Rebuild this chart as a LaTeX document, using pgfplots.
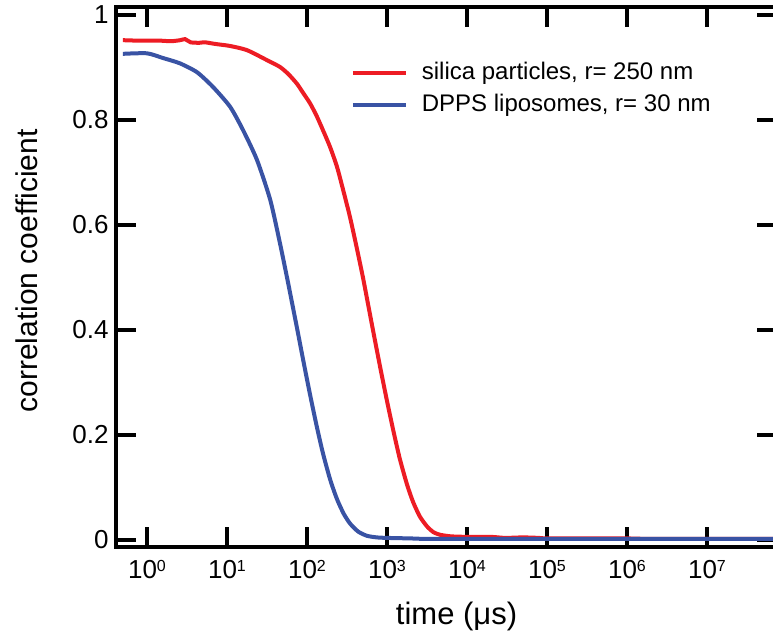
\documentclass[border=0pt]{standalone}
\usepackage{fontspec}
\setmainfont{Liberation Sans}
\usepackage{pgfplots}
\pgfplotsset{compat=1.18}
\definecolor{cred}{RGB}{237,28,36}
\definecolor{cblue}{RGB}{57,83,164}
\newcommand{\ep}[1]{10\raisebox{3.7pt}{\fontsize{8}{8}\selectfont #1}}
\begin{document}
\begin{tikzpicture}
\begin{axis}[
  scale only axis,
  width=330pt, height=270pt,
  xmode=log,
  xmin=0.4159, xmax=7.396e7,
  ymin=-0.0133, ymax=1.0152,
  xtick={1,10,100,1000,10000,100000,1000000,10000000},
  xticklabels={\ep{0},\ep{1},\ep{2},\ep{3},\ep{4},\ep{5},\ep{6},\ep{7}},
  xminorticks=false,
  ytick={0,0.2,0.4,0.6,0.8,1},
  yticklabels={0,0.2,0.4,0.6,0.8,1},
  yminorticks=false,
  tick align=inside,
  xtick pos=both, ytick pos=both,
  major tick length=10pt,
  tick style={line width=2pt, black},
  axis line style={line width=2pt, black},
  xticklabel style={anchor=north, inner sep=0pt, yshift=-6.5pt, font=\fontsize{13}{15}\selectfont},
  yticklabel style={anchor=east, inner sep=0pt, xshift=-3.8pt, font=\fontsize{13}{15}\selectfont},
  every axis x label/.style={at={(axis description cs:0.5152,-0.1444)}, anchor=base, font=\fontsize{15.5}{18}\selectfont},
  every axis y label/.style={at={(axis description cs:-0.1197,0.511)}, rotate=90, anchor=base, font=\fontsize{15}{18}\selectfont},
  xlabel={time (μs)},
  ylabel={correlation coefficient},
  legend style={at={(axis description cs:0.3545,0.90)}, anchor=north west, draw=none, fill=none, inner sep=0pt, font=\fontsize{12}{14}\selectfont, row sep=4pt, column sep=7pt, nodes={inner sep=0pt, text height=9pt, text depth=3pt}},
  legend cell align=left,
  legend image code/.code={\draw[#1, line width=2pt] (0pt,0pt) -- (26.5pt,0pt);},
]
\addplot[cred, line width=2pt, smooth, tension=0.4] coordinates {
(0.5,0.952) (0.8,0.951) (1.0,0.951) (1.5,0.951) (2.0,0.950) (2.6,0.952) (3.0,0.954) (3.5,0.948) (4.5,0.947) (5.3,0.948) (7.0,0.945) (10.9,0.941) (17.8,0.933) (31.6,0.914) (46,0.901) (58.9,0.887) (75,0.869) (89.1,0.852) (109,0.832) (131.8,0.808) (158,0.781) (195,0.748) (237,0.711) (281.8,0.668) (345,0.615) (416.9,0.558) (501,0.500) (575.4,0.452) (668,0.400) (812.8,0.333) (1000,0.265) (1202,0.208) (1445,0.155) (1778,0.106) (2113,0.073) (2570,0.045) (3162,0.026) (3802,0.015) (4600,0.010) (6310,0.007) (10000,0.006) (20000,0.006) (30000,0.004) (50000,0.005) (80000,0.004) (100000,0.003) (300000,0.003) (1000000,0.003) (2000000,0.002) (10000000,0.002) (73960000,0.002)
};
\addlegendentry{silica particles, r= 250 nm}
\addplot[cblue, line width=2pt, smooth, tension=0.4] coordinates {
(0.5,0.926) (1.0,0.927) (1.585,0.918) (2.57,0.908) (4.22,0.891) (6.68,0.863) (10.96,0.825) (15.85,0.781) (23.7,0.724) (34.7,0.648) (45.7,0.567) (57.5,0.493) (75,0.404) (91.2,0.337) (109.6,0.276) (131.8,0.218) (158.5,0.165) (195,0.115) (237,0.078) (288,0.050) (347,0.031) (437,0.016) (562,0.008) (741,0.005) (1000,0.004) (1995,0.003) (3162,0.002) (10000,0.002) (10000000,0.002) (73960000,0.002)
};
\addlegendentry{DPPS liposomes, r= 30 nm}
\coordinate (O) at (rel axis cs:0,0);
\end{axis}
\pgfresetboundingbox
\path[use as bounding box] (O) ++(-58.25pt,-45pt) rectangle ++(386.5pt,318.5pt);
\end{tikzpicture}
\end{document}
